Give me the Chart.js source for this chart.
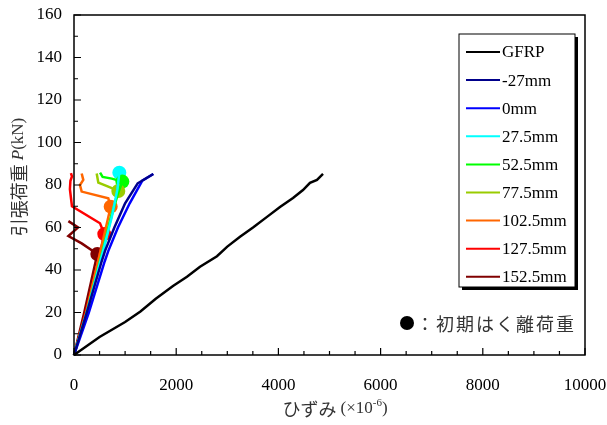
<!DOCTYPE html>
<html>
<head>
<meta charset="utf-8">
<script src="https://cdn.jsdelivr.net/npm/chart.js@4"></script>
<style>
  html, body { margin: 0; padding: 0; background: #fff; }
  canvas { display: block; }
</style>
</head>
<body>
<canvas id="myChart" width="607" height="425"></canvas>
<script>
// strain (x10^-6) and tensile load (kN)
const gfrpStrain = [0, 500, 1000, 1300, 1600, 1937, 2211, 2466, 2798, 3000, 3249, 3503, 3777, 4031, 4286, 4481, 4618, 4755, 4873];
const gfrpLoad = [0, 8.5, 15.5, 20.5, 26.5, 32.5, 36.8, 41.5, 46.5, 51, 55.6, 60, 65, 69.6, 73.9, 77.6, 81, 82.4, 85.2];

const m27Strain = [0, 250, 540, 607, 790, 1000, 1246, 1552];
const m27Load = [0, 20, 44, 49, 60, 71.4, 80.8, 85.2];

const p0Strain = [0, 290, 600, 672, 860, 1090, 1337, 1552];
const p0Load = [0, 20, 44, 49, 60, 71.4, 82, 85.2];

const p275Strain = [0, 250, 570, 740, 850, 887];
const p275Load = [0, 20, 49, 65, 78, 85.8];

const p525Strain = [0, 250, 565, 730, 860, 946, 740, 560, 510];
const p525Load = [0, 20, 49, 65, 76, 81.6, 83, 83.8, 85.8];

const p775Strain = [0, 250, 560, 720, 867, 671, 476, 444];
const p775Load = [0, 20, 49, 65, 77.2, 79.2, 81.1, 85.4];

const p1025Strain = [0, 240, 520, 718, 671, 150, 117, 182, 150];
const p1025Load = [0, 20, 49, 69.8, 73.7, 76.9, 80, 82.4, 85.4];

const p1275Strain = [0, 230, 480, 593, 509, -40, -60, -80, -70, -40, -60];
const p1275Load = [0, 20, 45, 56.9, 62, 70, 74, 78, 82, 84, 85.6];

const p1525Strain = [0, 200, 456, 150, -110, 80, -110];
const p1525Load = [0, 20, 47.5, 52.5, 56, 60, 63];

// initial debonding load (filled circles)
const debondStrain = [887, 946, 867, 718, 593, 456];
const debondLoad = [85.8, 81.6, 77.2, 69.8, 56.9, 47.5];

const seriesLabels = ["GFRP", "-27mm", "0mm", "27.5mm", "52.5mm", "77.5mm", "102.5mm", "127.5mm", "152.5mm"];
const seriesColors = ["#000000", "#00008b", "#0000ff", "#00ffff", "#00ff00", "#99cc00", "#ff6600", "#ff0000", "#800000"];
const debondColors = ["#00ffff", "#00ff00", "#99cc00", "#ff6600", "#ff0000", "#800000"];

const xTicks = [0, 2000, 4000, 6000, 8000, 10000];
const yTicks = [0, 20, 40, 60, 80, 100, 120, 140, 160];

const toPoints = (xs, ys) => xs.map((x, i) => ({ x, y: ys[i] }));

const seriesData = [
  [gfrpStrain, gfrpLoad],
  [m27Strain, m27Load],
  [p0Strain, p0Load],
  [p275Strain, p275Load],
  [p525Strain, p525Load],
  [p775Strain, p775Load],
  [p1025Strain, p1025Load],
  [p1275Strain, p1275Load],
  [p1525Strain, p1525Load],
];

const datasets = seriesData.map(([xs, ys], i) => ({
  label: seriesLabels[i],
  data: toPoints(xs, ys),
  borderColor: seriesColors[i],
  backgroundColor: seriesColors[i],
  borderWidth: 2.5,
  showLine: true,
  pointRadius: 0,
  tension: 0,
  clip: false,
}));

datasets.push({
  label: "debond",
  data: toPoints(debondStrain, debondLoad),
  showLine: false,
  pointRadius: 7,
  pointBackgroundColor: debondColors,
  pointBorderWidth: 0,
  clip: false,
});

const SERIF = "'Liberation Serif', 'DejaVu Serif', serif";
const JP = "'Noto Sans CJK JP', sans-serif";

// draws text pieces in a row, each with its own font and y offset
const drawRun = (ctx, parts, x, y) => {
  parts.forEach(([s, f, dy]) => {
    ctx.font = f;
    ctx.fillText(s, x, y + (dy || 0));
    x += ctx.measureText(s).width;
  });
};
const runWidth = (ctx, parts) =>
  parts.reduce((w, [s, f]) => { ctx.font = f; return w + ctx.measureText(s).width; }, 0);

const framePlugin = {
  id: "frame",
  afterDraw(chart) {
    const { ctx, chartArea: a, scales } = chart;
    ctx.save();
    ctx.strokeStyle = "#000";
    ctx.lineWidth = 1.5;
    ctx.strokeRect(a.left, a.top, a.right - a.left, a.bottom - a.top);

    // inward ticks
    ctx.lineWidth = 1.2;
    ctx.beginPath();
    for (let v = 0; v <= 10000; v += 500) {
      const px = scales.x.getPixelForValue(v);
      const len = v % 2000 === 0 ? 7 : 4;
      ctx.moveTo(px, a.bottom);
      ctx.lineTo(px, a.bottom - len);
    }
    for (let v = 0; v <= 160; v += 10) {
      const py = scales.y.getPixelForValue(v);
      const len = v % 20 === 0 ? 7 : 4;
      ctx.moveTo(a.left, py);
      ctx.lineTo(a.left + len, py);
    }
    ctx.stroke();

    // axis titles
    ctx.fillStyle = "#333";
    ctx.textBaseline = "middle";
    ctx.textAlign = "left";
    const xTitle = [
      ["ひずみ ", "18px " + JP],
      ["(×10", "17px " + SERIF],
      ["-6", "11px " + SERIF, -6],
      [")", "17px " + SERIF],
    ];
    drawRun(ctx, xTitle, 335 - runWidth(ctx, xTitle) / 2, 409);

    ctx.save();
    ctx.translate(19, 177);
    ctx.rotate(-Math.PI / 2);
    const yTitle = [
      ["引張荷重 ", "18px " + JP],
      ["P", "italic 17px " + SERIF],
      ["(kN)", "17px " + SERIF],
    ];
    drawRun(ctx, yTitle, -runWidth(ctx, yTitle) / 2, 0);
    ctx.restore();

    // legend box with shadow
    const lx = 459, ly = 34, lw = 116, lh = 253;
    ctx.fillStyle = "#000";
    ctx.fillRect(lx + 3, ly + 3, lw, lh);
    ctx.fillStyle = "#fff";
    ctx.fillRect(lx, ly, lw, lh);
    ctx.strokeStyle = "#000";
    ctx.lineWidth = 1;
    ctx.strokeRect(lx, ly, lw, lh);
    chart.data.datasets.slice(0, seriesLabels.length).forEach((ds, i) => {
      const ry = 52 + i * 28.1;
      ctx.strokeStyle = ds.borderColor;
      ctx.lineWidth = 2;
      ctx.beginPath();
      ctx.moveTo(466, ry);
      ctx.lineTo(500, ry);
      ctx.stroke();
      ctx.fillStyle = "#000";
      ctx.font = "17px " + SERIF;
      ctx.fillText(ds.label, 502, ry + 1);
    });

    // note: ● initial debonding load
    ctx.fillStyle = "#000";
    ctx.beginPath();
    ctx.arc(407, 323, 7, 0, Math.PI * 2);
    ctx.fill();
    ctx.fillStyle = "#333";
    ctx.font = "18px " + JP;
    ctx.letterSpacing = "2px";
    ctx.fillText("：初期はく離荷重", 416, 324);
    ctx.restore();
  },
};

const ctx = document.getElementById("myChart");

const myChart = new Chart(ctx, {
  type: "scatter",
  data: { datasets },
  options: {
    responsive: false,
    animation: false,
    layout: { padding: { top: 15, right: 22, left: 0, bottom: 0 } },
    plugins: {
      legend: { display: false },
      tooltip: { enabled: false },
    },
    scales: {
      x: {
        type: "linear",
        min: 0,
        max: 10000,
        afterBuildTicks: (s) => { s.ticks = xTicks.map((v) => ({ value: v })); },
        ticks: {
          color: "#000",
          font: { family: SERIF, size: 17 },
          padding: 20,
          maxRotation: 0,
          callback: (v) => String(v),
        },
        grid: { display: false, drawTicks: false },
        border: { display: false },
        afterFit: (s) => {
          s.height = 70;
          s.paddingLeft = 0;
          s.paddingRight = 0;
        },
      },
      y: {
        type: "linear",
        min: 0,
        max: 160,
        afterBuildTicks: (s) => { s.ticks = yTicks.map((v) => ({ value: v })); },
        ticks: { color: "#000", font: { family: SERIF, size: 17 }, padding: 12, callback: (v) => String(v) },
        grid: { display: false, drawTicks: false },
        border: { display: false },
        afterFit: (s) => {
          s.width = 74;
          s.paddingTop = 0;
          s.paddingBottom = 0;
        },
      },
    },
  },
  plugins: [framePlugin],
});
</script>
</body>
</html>
